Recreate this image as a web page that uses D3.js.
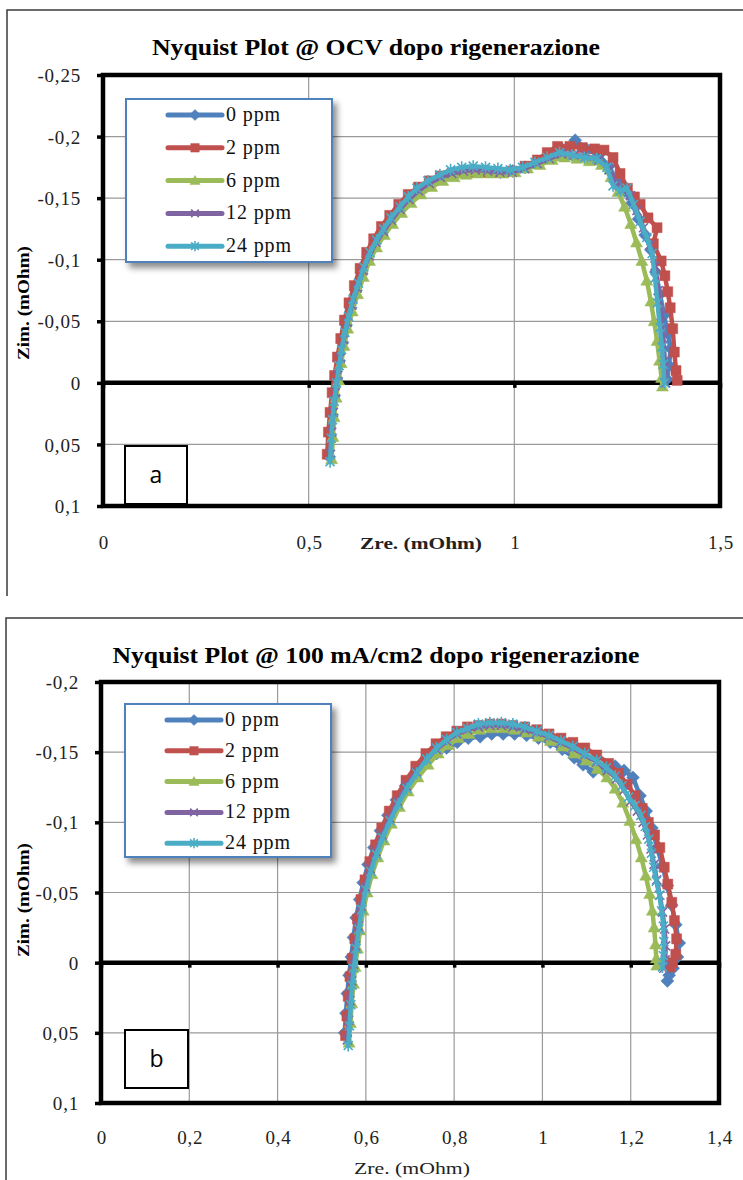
<!DOCTYPE html>
<html><head><meta charset="utf-8">
<script src="https://cdn.jsdelivr.net/npm/d3@7"></script>
<style>html,body{margin:0;padding:0;background:#fff;}svg{display:block;}</style>
</head><body>
<svg id="c" width="743" height="1180"></svg>
<script>
// ---------- DATA ----------
const seriesNames = ["0 ppm", "2 ppm", "6 ppm", "12 ppm", "24 ppm"];

const ocvTitle = "Nyquist Plot @ OCV dopo rigenerazione";
const maTitle = "Nyquist Plot @ 100 mA/cm2 dopo rigenerazione";

const ocvXTicks = [0, 0.5, 1, 1.5];
const ocvXTickLabels = ["0", "0,5", "1", "1,5"];
const ocvYTicks = [-0.25, -0.2, -0.15, -0.1, -0.05, 0, 0.05, 0.1];
const ocvYTickLabels = ["-0,25", "-0,2", "-0,15", "-0,1", "-0,05", "0", "0,05", "0,1"];

const maXTicks = [0, 0.2, 0.4, 0.6, 0.8, 1, 1.2, 1.4];
const maXTickLabels = ["0", "0,2", "0,4", "0,6", "0,8", "1", "1,2", "1,4"];
const maYTicks = [-0.2, -0.15, -0.1, -0.05, 0, 0.05, 0.1];
const maYTickLabels = ["-0,2", "-0,15", "-0,1", "-0,05", "0", "0,05", "0,1"];

// [Zre, Zim] — chart (a) @ OCV
const ocv_0ppm = [[0.550,0.060],[0.553,0.042],[0.557,0.026],[0.562,0.010],[0.568,-0.004],[0.574,-0.018],[0.582,-0.033],[0.591,-0.047],[0.602,-0.061],[0.615,-0.075],[0.629,-0.089],[0.644,-0.102],[0.661,-0.113],[0.679,-0.123],[0.699,-0.132],[0.720,-0.141],[0.743,-0.149],[0.767,-0.156],[0.793,-0.162],[0.820,-0.166],[0.848,-0.169],[0.877,-0.171],[0.906,-0.172],[0.936,-0.172],[0.966,-0.171],[0.996,-0.172],[1.026,-0.175],[1.056,-0.179],[1.086,-0.184],[1.116,-0.190],[1.148,-0.197],[1.175,-0.190],[1.205,-0.185],[1.230,-0.176],[1.250,-0.163],[1.268,-0.156],[1.286,-0.146],[1.302,-0.133],[1.318,-0.120],[1.332,-0.108],[1.344,-0.090],[1.354,-0.072],[1.364,-0.055],[1.373,-0.040],[1.380,-0.028],[1.376,-0.014],[1.371,-0.003]];
const ocv_2ppm = [[0.545,0.058],[0.548,0.040],[0.552,0.024],[0.557,0.008],[0.563,-0.006],[0.570,-0.021],[0.578,-0.036],[0.587,-0.051],[0.598,-0.065],[0.611,-0.079],[0.625,-0.093],[0.641,-0.106],[0.658,-0.117],[0.677,-0.127],[0.697,-0.136],[0.719,-0.145],[0.742,-0.153],[0.767,-0.159],[0.793,-0.164],[0.820,-0.168],[0.848,-0.170],[0.877,-0.171],[0.906,-0.171],[0.936,-0.171],[0.966,-0.171],[0.996,-0.172],[1.026,-0.176],[1.056,-0.181],[1.080,-0.187],[1.105,-0.192],[1.135,-0.192],[1.165,-0.191],[1.195,-0.190],[1.218,-0.189],[1.240,-0.183],[1.257,-0.170],[1.275,-0.158],[1.292,-0.151],[1.306,-0.145],[1.325,-0.134],[1.347,-0.126],[1.338,-0.113],[1.357,-0.099],[1.366,-0.087],[1.373,-0.074],[1.379,-0.061],[1.385,-0.044],[1.389,-0.025],[1.393,-0.010],[1.396,-0.002]];
const ocv_6ppm = [[0.556,0.062],[0.559,0.044],[0.562,0.028],[0.567,0.012],[0.573,-0.002],[0.579,-0.016],[0.586,-0.030],[0.595,-0.044],[0.606,-0.058],[0.619,-0.072],[0.633,-0.086],[0.648,-0.099],[0.665,-0.110],[0.684,-0.120],[0.704,-0.129],[0.726,-0.138],[0.749,-0.146],[0.773,-0.153],[0.799,-0.159],[0.826,-0.164],[0.854,-0.167],[0.883,-0.169],[0.912,-0.170],[0.942,-0.170],[0.972,-0.170],[1.002,-0.171],[1.032,-0.174],[1.062,-0.177],[1.092,-0.181],[1.122,-0.183],[1.152,-0.182],[1.182,-0.180],[1.212,-0.177],[1.235,-0.167],[1.252,-0.155],[1.268,-0.143],[1.283,-0.129],[1.297,-0.114],[1.310,-0.099],[1.322,-0.083],[1.332,-0.066],[1.340,-0.050],[1.347,-0.034],[1.353,-0.018],[1.358,-0.004],[1.360,0.003]];
const ocv_12ppm = [[0.553,0.058],[0.556,0.040],[0.560,0.024],[0.565,0.008],[0.571,-0.006],[0.577,-0.020],[0.585,-0.035],[0.594,-0.049],[0.605,-0.063],[0.618,-0.077],[0.632,-0.091],[0.647,-0.103],[0.664,-0.114],[0.682,-0.123],[0.701,-0.132],[0.722,-0.141],[0.744,-0.149],[0.767,-0.156],[0.793,-0.162],[0.820,-0.167],[0.848,-0.170],[0.876,-0.172],[0.905,-0.173],[0.935,-0.172],[0.965,-0.171],[0.995,-0.171],[1.025,-0.174],[1.055,-0.178],[1.085,-0.182],[1.115,-0.186],[1.145,-0.185],[1.175,-0.184],[1.205,-0.181],[1.230,-0.173],[1.248,-0.162],[1.265,-0.157],[1.282,-0.152],[1.298,-0.140],[1.314,-0.126],[1.330,-0.112],[1.342,-0.095],[1.350,-0.075],[1.357,-0.055],[1.362,-0.036],[1.366,-0.018],[1.368,0.000]];
const ocv_24ppm = [[0.552,0.064],[0.555,0.045],[0.558,0.030],[0.562,0.015],[0.568,0.000],[0.574,-0.014],[0.580,-0.027],[0.588,-0.041],[0.597,-0.054],[0.608,-0.068],[0.621,-0.081],[0.634,-0.094],[0.649,-0.106],[0.665,-0.116],[0.682,-0.125],[0.700,-0.134],[0.722,-0.143],[0.742,-0.151],[0.763,-0.158],[0.790,-0.164],[0.819,-0.169],[0.845,-0.173],[0.872,-0.175],[0.900,-0.176],[0.930,-0.175],[0.960,-0.174],[0.990,-0.173],[1.020,-0.175],[1.050,-0.179],[1.080,-0.183],[1.110,-0.187],[1.140,-0.185],[1.170,-0.183],[1.200,-0.182],[1.225,-0.175],[1.240,-0.160],[1.258,-0.156],[1.274,-0.158],[1.290,-0.145],[1.306,-0.131],[1.322,-0.118],[1.335,-0.105],[1.342,-0.085],[1.348,-0.065],[1.354,-0.045],[1.359,-0.029],[1.362,-0.015],[1.365,0.000]];

// [Zre, Zim] — chart (b) @ 100 mA/cm2
const ma_0ppm = [[0.552,0.050],[0.555,0.036],[0.558,0.022],[0.562,0.009],[0.567,-0.004],[0.572,-0.018],[0.578,-0.032],[0.586,-0.045],[0.594,-0.057],[0.605,-0.070],[0.618,-0.082],[0.633,-0.094],[0.650,-0.105],[0.669,-0.116],[0.690,-0.126],[0.713,-0.135],[0.737,-0.143],[0.760,-0.149],[0.783,-0.153],[0.807,-0.157],[0.832,-0.160],[0.859,-0.161],[0.885,-0.163],[0.911,-0.163],[0.937,-0.163],[0.964,-0.162],[0.991,-0.160],[1.018,-0.157],[1.045,-0.152],[1.072,-0.146],[1.092,-0.141],[1.115,-0.136],[1.140,-0.138],[1.165,-0.140],[1.185,-0.137],[1.205,-0.132],[1.221,-0.119],[1.235,-0.108],[1.248,-0.096],[1.260,-0.082],[1.272,-0.069],[1.283,-0.055],[1.293,-0.041],[1.302,-0.027],[1.310,-0.014],[1.306,-0.004],[1.296,0.004],[1.287,0.009],[1.283,0.013]];
const ma_2ppm = [[0.554,0.052],[0.557,0.038],[0.560,0.024],[0.564,0.010],[0.569,-0.003],[0.575,-0.017],[0.581,-0.031],[0.589,-0.045],[0.598,-0.059],[0.609,-0.072],[0.622,-0.084],[0.636,-0.096],[0.653,-0.108],[0.671,-0.119],[0.691,-0.130],[0.713,-0.140],[0.736,-0.149],[0.759,-0.156],[0.782,-0.161],[0.806,-0.165],[0.830,-0.168],[0.855,-0.169],[0.881,-0.170],[0.907,-0.170],[0.933,-0.169],[0.960,-0.168],[0.987,-0.166],[1.015,-0.163],[1.042,-0.160],[1.069,-0.157],[1.096,-0.153],[1.123,-0.148],[1.150,-0.142],[1.172,-0.135],[1.192,-0.127],[1.210,-0.119],[1.226,-0.110],[1.240,-0.100],[1.254,-0.091],[1.266,-0.082],[1.276,-0.068],[1.284,-0.056],[1.293,-0.043],[1.299,-0.030],[1.304,-0.017],[1.302,-0.006],[1.295,0.000],[1.289,0.003]];
const ma_6ppm = [[0.562,0.057],[0.565,0.043],[0.568,0.029],[0.572,0.015],[0.576,0.003],[0.581,-0.010],[0.587,-0.023],[0.594,-0.037],[0.603,-0.050],[0.614,-0.063],[0.627,-0.075],[0.641,-0.087],[0.658,-0.099],[0.676,-0.111],[0.696,-0.122],[0.718,-0.132],[0.741,-0.141],[0.764,-0.149],[0.787,-0.155],[0.810,-0.160],[0.834,-0.163],[0.859,-0.166],[0.885,-0.167],[0.911,-0.167],[0.937,-0.166],[0.964,-0.164],[0.991,-0.161],[1.018,-0.158],[1.045,-0.154],[1.072,-0.149],[1.099,-0.144],[1.124,-0.138],[1.146,-0.132],[1.165,-0.124],[1.182,-0.114],[1.198,-0.101],[1.212,-0.088],[1.224,-0.075],[1.234,-0.062],[1.243,-0.049],[1.249,-0.037],[1.253,-0.025],[1.256,-0.013],[1.258,-0.003],[1.259,0.002]];
const ma_12ppm = [[0.558,0.055],[0.561,0.041],[0.564,0.027],[0.568,0.013],[0.572,0.001],[0.577,-0.012],[0.583,-0.026],[0.590,-0.040],[0.599,-0.054],[0.610,-0.067],[0.623,-0.079],[0.637,-0.091],[0.654,-0.103],[0.672,-0.115],[0.692,-0.126],[0.714,-0.136],[0.737,-0.145],[0.760,-0.152],[0.783,-0.158],[0.806,-0.163],[0.830,-0.166],[0.855,-0.168],[0.881,-0.169],[0.907,-0.169],[0.933,-0.168],[0.960,-0.166],[0.987,-0.164],[1.015,-0.161],[1.042,-0.157],[1.069,-0.153],[1.096,-0.148],[1.123,-0.143],[1.147,-0.137],[1.168,-0.131],[1.185,-0.123],[1.200,-0.115],[1.215,-0.108],[1.228,-0.100],[1.238,-0.091],[1.246,-0.081],[1.253,-0.070],[1.259,-0.059],[1.266,-0.048],[1.272,-0.036],[1.277,-0.024],[1.279,-0.012],[1.278,-0.002],[1.275,0.004]];
const ma_24ppm = [[0.560,0.059],[0.563,0.045],[0.566,0.030],[0.569,0.016],[0.573,0.004],[0.578,-0.010],[0.584,-0.024],[0.591,-0.038],[0.600,-0.052],[0.611,-0.065],[0.624,-0.077],[0.638,-0.089],[0.655,-0.101],[0.673,-0.113],[0.693,-0.124],[0.715,-0.135],[0.738,-0.145],[0.760,-0.153],[0.783,-0.159],[0.806,-0.164],[0.830,-0.167],[0.855,-0.170],[0.881,-0.171],[0.907,-0.171],[0.933,-0.170],[0.960,-0.168],[0.987,-0.165],[1.015,-0.162],[1.042,-0.158],[1.069,-0.154],[1.096,-0.149],[1.123,-0.144],[1.145,-0.139],[1.165,-0.133],[1.180,-0.126],[1.195,-0.118],[1.210,-0.112],[1.223,-0.105],[1.233,-0.097],[1.241,-0.088],[1.247,-0.078],[1.252,-0.068],[1.258,-0.058],[1.265,-0.048],[1.270,-0.037],[1.274,-0.026],[1.275,-0.015],[1.274,-0.005],[1.272,0.003]];

// ---------- STYLE ----------
const colors = ["#4F81BD", "#C0504D", "#9BBB59", "#8064A2", "#4BACC6"];
const markers = ["diamond", "square", "triangle", "x", "star"];
const serif = "'Liberation Serif','Times New Roman',serif";

const svg = d3.select("#c");
const defs = svg.append("defs");
const f = defs.append("filter").attr("id", "sh").attr("x", "-20%").attr("y", "-20%").attr("width", "150%").attr("height", "150%");
f.append("feDropShadow").attr("dx", 4).attr("dy", 5).attr("stdDeviation", 3).attr("flood-color", "#000").attr("flood-opacity", 0.45);

function markerPath(type, k) {
  switch (type) {
    case "diamond": return `M0,${-6.5*k}L${6.5*k},0L0,${6.5*k}L${-6.5*k},0Z`;
    case "square": return `M${-5*k},${-5*k}H${5*k}V${5*k}H${-5*k}Z`;
    case "triangle": return `M0,${-6*k}L${6*k},${4.5*k}H${-6*k}Z`;
    case "x": return `M${-4.5*k},${-4.5*k}L${4.5*k},${4.5*k}M${4.5*k},${-4.5*k}L${-4.5*k},${4.5*k}`;
    case "star": return `M${-4.5*k},${-4.5*k}L${4.5*k},${4.5*k}M${4.5*k},${-4.5*k}L${-4.5*k},${4.5*k}M0,${-6*k}V${6*k}`;
  }
}
function drawMarker(g, type, color, x, y, k) {
  const filled = type === "diamond" || type === "square" || type === "triangle";
  g.append("path").attr("d", markerPath(type, k)).attr("transform", `translate(${x},${y})`)
    .attr("fill", filled ? color : "none").attr("stroke", color)
    .attr("stroke-width", filled ? 0.5 : 1.6);
}

function drawChart(cfg) {
  const g = svg.append("g");
  g.append("path").attr("d", cfg.frame).attr("fill", "none").attr("stroke", "#3a3a3a").attr("stroke-width", 1.5);

  const x = d3.scaleLinear().domain(cfg.xDomain).range([cfg.left, cfg.right]);
  const y = d3.scaleLinear().domain(cfg.yDomain).range([cfg.top, cfg.bottom]);

  g.selectAll(".vg").data(cfg.xTicks.slice(1, -1)).join("line")
    .attr("x1", d => x(d)).attr("x2", d => x(d)).attr("y1", cfg.top).attr("y2", cfg.bottom)
    .attr("stroke", "#9a9a9a").attr("stroke-width", 1.2);
  g.selectAll(".hg").data(cfg.yTicks.slice(1, -1).filter(d => d !== 0)).join("line")
    .attr("x1", cfg.left).attr("x2", cfg.right).attr("y1", d => y(d)).attr("y2", d => y(d))
    .attr("stroke", "#9a9a9a").attr("stroke-width", 1.2);

  g.append("rect").attr("x", cfg.left).attr("y", cfg.top).attr("width", cfg.right - cfg.left).attr("height", cfg.bottom - cfg.top)
    .attr("fill", "none").attr("stroke", "#000").attr("stroke-width", 4.5);

  const yAxis = d3.axisLeft(y).tickValues(cfg.yTicks).tickSize(6).tickPadding(16)
    .tickFormat((d, i) => cfg.yTickLabels[i]);
  const ya = g.append("g").attr("transform", `translate(${cfg.left},0)`).call(yAxis);
  ya.select(".domain").remove();
  ya.selectAll(".tick line").attr("stroke", "#000").attr("stroke-width", 3.5);
  ya.selectAll(".tick text").attr("font-family", serif).attr("font-size", 19).attr("letter-spacing", 0.8)
    .attr("fill", "#222").attr("dy", "0.35em");

  const x0y = y(0);
  const xAxis = d3.axisBottom(x).tickValues(cfg.xTicks).tickSize(5).tickFormat("");
  const xa = g.append("g").attr("transform", `translate(0,${x0y})`).call(xAxis);
  xa.select(".domain").remove();
  xa.selectAll(".tick line").attr("stroke", "#000").attr("stroke-width", 3.5);
  g.append("line").attr("x1", cfg.left).attr("x2", cfg.right).attr("y1", x0y).attr("y2", x0y)
    .attr("stroke", "#000").attr("stroke-width", 4.5);

  g.selectAll(".xl").data(cfg.xTicks).join("text")
    .attr("x", d => x(d) + 1).attr("y", cfg.xLabelY).attr("text-anchor", "middle")
    .attr("font-family", serif).attr("font-size", 19).attr("letter-spacing", 0.8).attr("fill", "#222")
    .text((d, i) => cfg.xTickLabels[i]);

  g.append("text").attr("x", cfg.titleX).attr("y", cfg.titleY).attr("text-anchor", "middle")
    .attr("font-family", serif).attr("font-weight", "bold").attr("font-size", 23)
    .attr("textLength", cfg.titleLen).attr("lengthAdjust", "spacingAndGlyphs").text(cfg.title);
  g.append("text").attr("x", cfg.xTitleX).attr("y", cfg.xTitleY).attr("text-anchor", "middle")
    .attr("font-family", serif).attr("font-weight", cfg.xTitleBold ? "bold" : "normal").attr("font-size", 17)
    .attr("fill", "#222")
    .attr("textLength", cfg.xTitleLen).attr("lengthAdjust", "spacingAndGlyphs").text("Zre. (mOhm)");
  g.append("text").attr("transform", `translate(${cfg.yTitleX},${cfg.yTitleY}) rotate(-90)`).attr("text-anchor", "middle")
    .attr("font-family", serif).attr("font-weight", "bold").attr("font-size", 17)
    .attr("textLength", 114).attr("lengthAdjust", "spacingAndGlyphs").text("Zim. (mOhm)");

  const line = d3.line().x(d => x(d[0])).y(d => y(d[1]));
  cfg.series.forEach((s, i) => {
    const sg = g.append("g");
    sg.append("path").attr("d", line(s)).attr("fill", "none").attr("stroke", colors[i])
      .attr("stroke-width", 4.5).attr("stroke-linejoin", "round").attr("stroke-linecap", "round");
    s.forEach(p => drawMarker(sg, markers[i], colors[i], x(p[0]), y(p[1]), 1));
  });

  const L = cfg.legend;
  g.append("rect").attr("x", L.x).attr("y", L.y).attr("width", L.w).attr("height", L.h)
    .attr("fill", "#fff").attr("stroke", "#4F81BD").attr("stroke-width", 2).attr("filter", "url(#sh)");
  seriesNames.forEach((n, i) => {
    const ry = L.y + L.first + i * L.step;
    g.append("line").attr("x1", L.x + 42).attr("x2", L.x + 96).attr("y1", ry).attr("y2", ry)
      .attr("stroke", colors[i]).attr("stroke-width", 5).attr("stroke-linecap", "round");
    drawMarker(g, markers[i], colors[i], L.x + 69, ry, 0.85);
    g.append("text").attr("x", L.x + 100).attr("y", ry + 6).attr("font-family", serif).attr("font-size", 20)
      .attr("letter-spacing", 0.9).attr("fill", "#111").text(n);
  });

  const B = cfg.box;
  g.append("rect").attr("x", B.x).attr("y", B.y).attr("width", B.w).attr("height", B.h)
    .attr("fill", "#fff").attr("stroke", "#000").attr("stroke-width", 2);
  g.append("text").attr("x", B.x + B.w / 2).attr("y", B.y + B.h / 2 + 8).attr("text-anchor", "middle")
    .attr("font-family", "'Open Sans','Liberation Sans',sans-serif").attr("font-size", 23).text(B.label);
}

drawChart({
  frame: "M7,596V10H743",
  left: 103, right: 720, top: 75, bottom: 506,
  xDomain: [0, 1.5], yDomain: [-0.25, 0.1],
  xTicks: ocvXTicks, xTickLabels: ocvXTickLabels, yTicks: ocvYTicks, yTickLabels: ocvYTickLabels,
  xLabelY: 549,
  title: ocvTitle, titleX: 376, titleY: 55, titleLen: 448,
  xTitleX: 421, xTitleY: 549, xTitleLen: 122, xTitleBold: true,
  yTitleX: 29, yTitleY: 303,
  series: [ocv_0ppm, ocv_2ppm, ocv_6ppm, ocv_12ppm, ocv_24ppm],
  legend: { x: 126, y: 99, w: 206, h: 163, first: 16, step: 32.8 },
  box: { x: 125, y: 446, w: 62, h: 58, label: "a" }
});

drawChart({
  frame: "M6,1180V618H743",
  left: 101, right: 719, top: 682, bottom: 1103,
  xDomain: [0, 1.4], yDomain: [-0.2, 0.1],
  xTicks: maXTicks, xTickLabels: maXTickLabels, yTicks: maYTicks, yTickLabels: maYTickLabels,
  xLabelY: 1144,
  title: maTitle, titleX: 376, titleY: 663, titleLen: 527,
  xTitleX: 412, xTitleY: 1174, xTitleLen: 116, xTitleBold: false,
  yTitleX: 29, yTitleY: 900,
  series: [ma_0ppm, ma_2ppm, ma_6ppm, ma_12ppm, ma_24ppm],
  legend: { x: 125, y: 704, w: 206, h: 153, first: 16, step: 30.8 },
  box: { x: 125, y: 1030, w: 63, h: 58, label: "b" }
});
</script>
</body></html>
